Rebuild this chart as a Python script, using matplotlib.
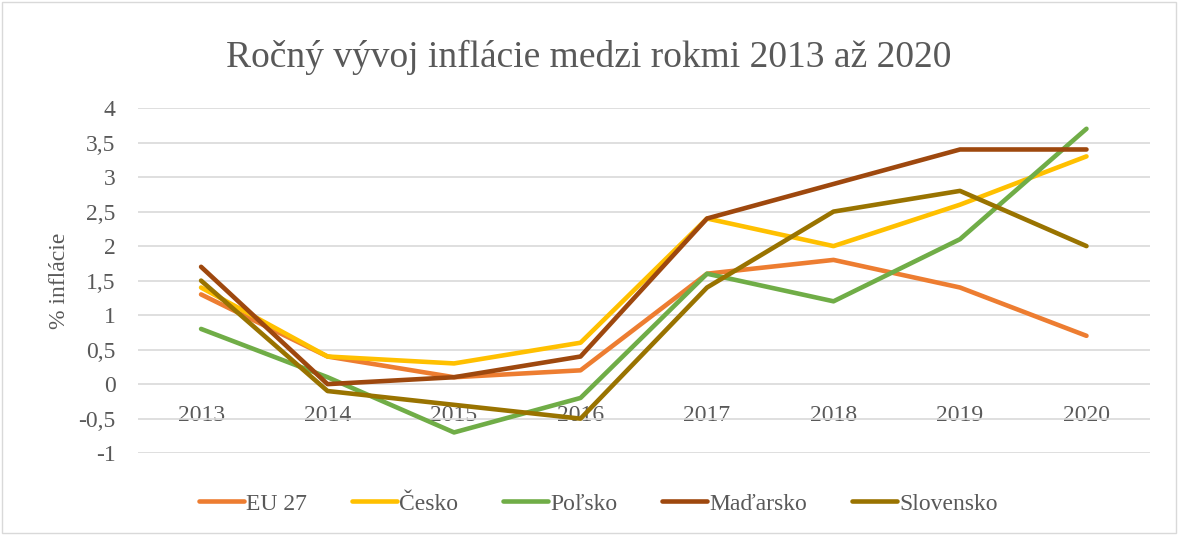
import matplotlib.pyplot as plt
from matplotlib.patches import Rectangle

years = ['2013', '2014', '2015', '2016', '2017', '2018', '2019', '2020']
eu27 = [1.3, 0.4, 0.1, 0.2, 1.6, 1.8, 1.4, 0.7]
cesko = [1.4, 0.4, 0.3, 0.6, 2.4, 2.0, 2.6, 3.3]
polsko = [0.8, 0.1, -0.7, -0.2, 1.6, 1.2, 2.1, 3.7]
madarsko = [1.7, 0.0, 0.1, 0.4, 2.4, 2.9, 3.4, 3.4]
slovensko = [1.5, -0.1, -0.3, -0.5, 1.4, 2.5, 2.8, 2.0]

series = [
    ('EU 27', eu27, '#ED7D31'),
    ('Česko', cesko, '#FFC000'),
    ('Poľsko', polsko, '#70AD47'),
    ('Maďarsko', madarsko, '#9E480E'),
    ('Slovensko', slovensko, '#997300'),
]

plt.rcParams['font.family'] = ['Liberation Serif', 'DejaVu Serif']
txt = '#595959'

fig = plt.figure(figsize=(11.78, 5.35), dpi=100)
fig.patches.append(Rectangle((0.002, 0.004), 0.996, 0.992, transform=fig.transFigure,
                             fill=False, edgecolor='#D9D9D9', linewidth=1))
ax = fig.add_axes([0.117, 0.153, 0.859, 0.645])

x = list(range(len(years)))
for name, vals, col in series:
    ax.plot(x, vals, color=col, linewidth=3.3, label=name, solid_capstyle='round')

ax.set_xlim(-0.5, len(years) - 0.5)
ax.set_ylim(-1, 4)
ax.set_yticks([-1, -0.5, 0, 0.5, 1, 1.5, 2, 2.5, 3, 3.5, 4])
ax.set_yticklabels(['-1', '-0,5', '0', '0,5', '1', '1,5', '2', '2,5', '3', '3,5', '4'])
ax.set_xticks(x)
ax.set_xticklabels(years)
ax.grid(axis='y', color='#D9D9D9', linewidth=1.2)
ax.set_axisbelow(True)
for s in ax.spines.values():
    s.set_visible(False)
ax.spines['bottom'].set_position(('data', 0))
ax.tick_params(axis='both', length=0, labelsize=17, colors=txt)
ax.tick_params(axis='x', pad=15)
ax.tick_params(axis='y', pad=16)

ax.set_ylabel('% inflácie', fontsize=17, color=txt, labelpad=6)
fig.suptitle('Ročný vývoj inflácie medzi rokmi 2013 až 2020', fontsize=27,
             color=txt, y=0.925)

fig.legend(loc='center', bbox_to_anchor=(0.508, 0.058), ncol=5, frameon=False,
           fontsize=17, labelcolor=txt, handlelength=1.9, handletextpad=0.1,
           columnspacing=1.9)

fig.savefig('out.png', dpi=100)
